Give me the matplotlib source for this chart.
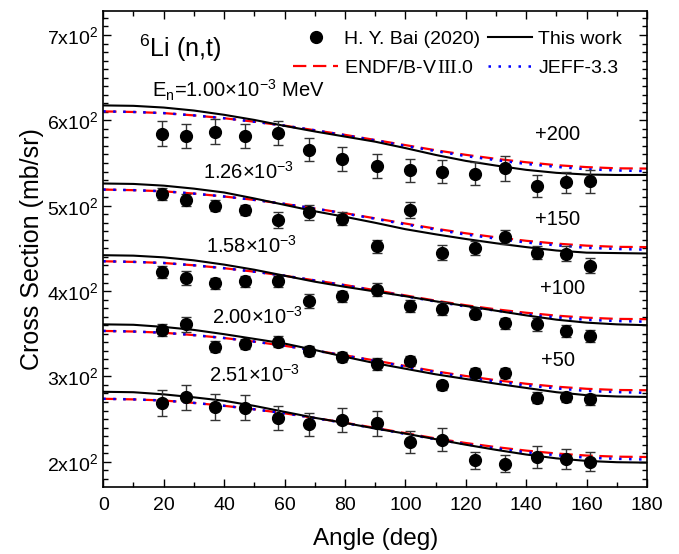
import matplotlib
matplotlib.use('Agg')
import matplotlib.pyplot as plt

plt.rcParams['font.family'] = ['Liberation Sans', 'DejaVu Sans']
plt.rcParams['mathtext.fontset'] = 'custom'
plt.rcParams['mathtext.rm'] = 'Liberation Serif'
plt.rcParams['mathtext.it'] = 'Liberation Sans'

# calculation grid (deg)
angles = [0, 10, 20, 30, 40, 50, 60, 70, 80, 90, 100, 110, 120, 130, 140, 150, 160, 170, 180]
# measured angles (deg)
exp_angles = [19.5, 27.5, 37, 47, 58, 68, 79, 90.5, 101.5, 112, 123, 133, 143.5, 153, 161]

energy_labels = ['E$_\\mathregular{n}$=1.00\u00d710$^{\\mathregular{-3}}$ MeV',
                 '1.26\u00d710$^{\\mathregular{-3}}$', '1.58\u00d710$^{\\mathregular{-3}}$',
                 '2.00\u00d710$^{\\mathregular{-3}}$', '2.51\u00d710$^{\\mathregular{-3}}$']
offsets = [200, 150, 100, 50, 0]

# H. Y. Bai (2020) data, mb/sr (without offset)
bai_1 = [384.4, 381.3, 386.4, 381.3, 385.2, 365.8, 354.9, 346.3, 341.6, 339.7, 337.7, 343.6, 323.0, 327.2, 328.4]
bai_2 = [363.5, 356.6, 350.0, 345.0, 333.5, 342.3, 334.6, 302.7, 345.0, 295.0, 300.7, 313.4, 295.0, 293.8, 279.5]
bai_3 = [322.6, 315.3, 309.1, 311.4, 311.4, 288.3, 293.7, 301.4, 282.6, 279.5, 273.7, 262.1, 261.0, 253.3, 247.5]
bai_4 = [304.4, 311.0, 285.0, 288.0, 290.5, 279.7, 272.4, 264.3, 268.1, 239.6, 253.9, 253.9, 225.0, 226.1, 223.1]
bai_5 = [269.2, 275.8, 264.2, 263.4, 251.1, 244.2, 248.8, 244.9, 223.0, 226.1, 201.8, 197.9, 205.7, 203.0, 199.9]

err_1 = [14.8, 14, 14.6, 14, 14, 13.6, 14, 14.2, 13.6, 13.6, 14, 14.2, 12.6, 12.6, 13]
err_2 = [7, 7.3, 6.7, 6.4, 9.6, 8.7, 7.7, 7.7, 9.6, 8.9, 8.3, 8.7, 7.7, 8.7, 8.7]
err_3 = [7.3, 8.7, 6.7, 6.7, 6.7, 7.7, 6.7, 7.7, 7.3, 7.7, 6.7, 6.7, 7.7, 6.7, 6.7]
err_4 = [7.3, 8.7, 6.7, 6, 6.5, 6, 6, 6.7, 5.4, 5, 5.8, 5.8, 6.4, 6, 6.2]
err_5 = [15, 14.6, 15, 14.8, 14, 13.5, 13.9, 14.2, 12.7, 13.3, 10, 10, 12.5, 12, 11]

# This work
calc_1 = [417.5, 417, 415, 411.5, 406.5, 400.5, 393.5, 387, 381, 375, 367.5, 359.5, 352.5, 347, 342, 338.5, 336.5, 336, 336]
calc_2 = [376, 375.5, 373.5, 370, 365.5, 358.5, 351, 343.5, 337, 330, 322.5, 316.5, 311, 306, 301.5, 297.5, 295, 294.5, 294]
calc_3 = [342, 341.5, 339.5, 336, 331, 325, 318, 311, 305, 299.5, 294, 288, 282.5, 277, 271.5, 266.5, 263, 261, 260]
calc_4 = [311, 310.5, 308, 304.5, 299.5, 294, 288.5, 281, 273, 265.5, 259, 252.5, 247, 241.5, 236.5, 231.5, 228, 226.5, 226]
calc_5 = [282, 281.5, 279, 275.5, 271.5, 265.5, 258.5, 251.5, 245.5, 239, 233, 226.5, 220, 214, 208.5, 204, 201, 199.5, 199]

# ENDF/B-VIII.0
endf_1 = [410.5, 409.8, 408.5, 405.8, 402.5, 398.4, 393.8, 388.4, 383, 377, 371, 365, 359.6, 354.9, 350.9, 347.5, 345.2, 343.8, 343.5]
endf_2 = [368.9, 368.2, 366.9, 364.2, 360.8, 356.8, 352.1, 346.7, 341.3, 335.2, 329.1, 323.1, 317.7, 313, 308.9, 305.6, 303.2, 301.8, 301.5]
endf_3 = [334.9, 334.2, 332.9, 330.2, 326.8, 322.7, 318, 312.5, 307.1, 301, 294.9, 288.8, 283.4, 278.6, 274.6, 271.2, 268.8, 267.4, 267.1]
endf_4 = [303.3, 302.6, 301.2, 298.4, 295, 290.8, 285.9, 280.4, 274.8, 268.6, 262.3, 256, 250.5, 245.6, 241.4, 238, 235.5, 234.1, 233.8]
endf_5 = [273.8, 273.1, 271.8, 269, 265.6, 261.5, 256.8, 251.3, 245.8, 239.7, 233.6, 227.4, 222, 217.2, 213.1, 209.7, 207.3, 206, 205.6]

# JEFF-3.3
jeff_1 = [410.5, 409.8, 408.5, 405.8, 402.5, 398.4, 393.8, 388.4, 382.5, 376.5, 370, 364, 358.1, 353.4, 348.9, 345.5, 342.7, 341.3, 340.5]
jeff_2 = [368.9, 368.2, 366.9, 364.2, 360.8, 356.8, 352.1, 346.7, 340.8, 334.7, 328.1, 322.1, 316.2, 311.5, 306.9, 303.6, 300.7, 299.3, 298.5]
jeff_3 = [334.9, 334.2, 332.9, 330.2, 326.8, 322.7, 318, 312.5, 306.6, 300.5, 293.9, 287.8, 281.9, 277.1, 272.6, 269.2, 266.3, 264.9, 264.1]
jeff_4 = [303.3, 302.6, 301.2, 298.4, 295, 290.8, 285.9, 280.4, 274.3, 268.1, 261.3, 255, 249, 244.1, 239.4, 236, 233, 231.6, 230.8]
jeff_5 = [273.8, 273.1, 271.8, 269, 265.6, 261.5, 256.8, 251.3, 245.3, 239.2, 232.6, 226.4, 220.5, 215.7, 211.1, 207.7, 204.8, 203.5, 202.6]

bai = [bai_1, bai_2, bai_3, bai_4, bai_5]
errs = [err_1, err_2, err_3, err_4, err_5]
calc = [calc_1, calc_2, calc_3, calc_4, calc_5]
endf = [endf_1, endf_2, endf_3, endf_4, endf_5]
jeff = [jeff_1, jeff_2, jeff_3, jeff_4, jeff_5]

# label positions (deg, mb/sr)
energy_pos = [(16, 635), (33, 540), (34, 453), (36, 370), (35, 302)]
offset_pos = [(143, 583), (143, 484), (144.5, 403), (145, 319)]

endf_label = 'ENDF/B-V$\\,\\mathrm{III}$.0'

fig = plt.figure(figsize=(6.79, 5.54), dpi=100)
ax = fig.add_axes([0.152, 0.121, 0.801, 0.859])

for i in range(5):
    off = offsets[i]
    ax.plot(angles, [v + off for v in endf[i]], color='red', lw=1.6, ls=(0, (6, 3)),
            label=endf_label if i == 0 else None, zorder=2)
    ax.plot(angles, [v + off for v in jeff[i]], color='blue', lw=1.8, ls=(0, (1, 3)),
            label='JEFF-3.3' if i == 0 else None, zorder=2)
    ax.plot(angles, [v + off for v in calc[i]], color='black', lw=1.5,
            label='This work' if i == 0 else None, zorder=3)
    ax.errorbar(exp_angles, [v + off for v in bai[i]], yerr=errs[i], fmt='o', color='black',
                ms=8.5, ecolor='#333333', elinewidth=1, capsize=3.5, capthick=1,
                label='H. Y. Bai (2020)' if i == 0 else None, zorder=4)

for lab, (x, y) in zip(energy_labels, energy_pos):
    ax.text(x, y, lab, fontsize=14.5, va='center', ha='left')
for off, (x, y) in zip(offsets, offset_pos):
    ax.text(x, y, f'+{off}', fontsize=14.5, va='center', ha='left')

ax.text(12, 684, '$^{\\mathregular{6}}$Li (n,t)', fontsize=18, va='center', ha='left')

ax.set_xlim(0, 180)
ax.set_ylim(170.5, 728)
ax.set_xticks(range(0, 181, 20))
ax.set_xticks(range(0, 181, 10), minor=True)
ax.set_yticks(range(200, 701, 100))
ax.set_yticks(range(180, 721, 10), minor=True)
ax.set_yticklabels([f'{k}x10$^{{\\mathregular{{2}}}}$' for k in range(2, 8)])
ax.tick_params(which='both', direction='in', top=True, right=True, labelsize=14, width=1)
ax.tick_params(axis='x', pad=7)
ax.tick_params(which='major', length=6)
ax.tick_params(which='minor', length=3.5)
for s in ax.spines.values():
    s.set_linewidth(1.2)

ax.set_xlabel('Angle (deg)', fontsize=17.5, labelpad=10)
ax.set_ylabel('Cross Section (mb/sr)', fontsize=18, labelpad=2)

h, l = ax.get_legend_handles_labels()
order = [l.index('H. Y. Bai (2020)'), l.index(endf_label), l.index('This work'), l.index('JEFF-3.3')]
handles = [h[k][0] if isinstance(h[k], tuple) else h[k] for k in order]
ax.legend(handles, [l[k] for k in order], ncol=2, loc='upper right',
          bbox_to_anchor=(0.972, 0.98), frameon=False, fontsize=14, handlelength=2.3,
          handletextpad=0.3, columnspacing=0.4, labelspacing=0.6, borderpad=0, numpoints=1)

fig.savefig('out.png', dpi=100)
